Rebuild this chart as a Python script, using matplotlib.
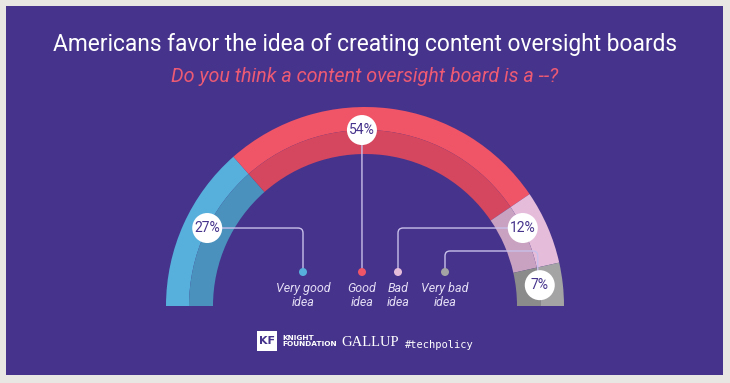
import numpy as np
import matplotlib.pyplot as plt
from matplotlib.patches import Wedge, Rectangle, Circle, PathPatch
from matplotlib.path import Path

# data
categories = ["Very good\nidea", "Good\nidea", "Bad\nidea", "Very bad\nidea"]
shares = [27, 54, 12, 7]
pct_labels = ["27%", "54%", "12%", "7%"]

outer_colors = ["#57b0dc", "#ef5567", "#e5bddb", "#a4a4a4"]
inner_colors = ["#4a92bd", "#d5475e", "#c9a2c1", "#8b8b8b"]

# layout (image pixel coords, y measured from the top)
W, H = 730, 383
CX, CY = 365, 306
R_IN, R_MID, R_OUT = 152, 176, 199
label_angles = [153.7, 91.0, 26.3, 6.8]   # where the value bubbles sit on the arc
legend_x = [303, 362, 398, 445]
legend_dot_y = 272
PURPLE = "#46338c"
LINE = "#c9c0ea"


def Y(y):
    return H - y


def rounded_path(pts, r=5):
    """polyline through pts (image coords) with rounded corners"""
    pts = [np.array([x, Y(y)], float) for x, y in pts]
    verts = [pts[0]]
    codes = [Path.MOVETO]
    for i in range(1, len(pts) - 1):
        p0, p1, p2 = pts[i - 1], pts[i], pts[i + 1]
        d1 = (p1 - p0) / np.linalg.norm(p1 - p0)
        d2 = (p2 - p1) / np.linalg.norm(p2 - p1)
        verts += [p1 - d1 * r, p1, p1 + d2 * r]
        codes += [Path.LINETO, Path.CURVE3, Path.CURVE3]
    verts.append(pts[-1])
    codes.append(Path.LINETO)
    return Path(verts, codes)


fig = plt.figure(figsize=(7.3, 3.83), dpi=100)
fig.patch.set_facecolor("#e9e7e3")
ax = fig.add_axes([0, 0, 1, 1])
ax.set_xlim(0, W)
ax.set_ylim(0, H)
ax.set_aspect("equal")
ax.axis("off")

ax.add_patch(Rectangle((6, Y(375)), 717, 369, facecolor=PURPLE, edgecolor="none", zorder=0))

# gauge
cum = np.concatenate([[0], np.cumsum(shares)]) / sum(shares)
for i in range(len(shares)):
    t1 = 180 - cum[i + 1] * 180
    t2 = 180 - cum[i] * 180
    ax.add_patch(Wedge((CX, Y(CY)), R_OUT, t1, t2, width=R_OUT - R_MID,
                       facecolor=outer_colors[i], edgecolor="none", zorder=1))
    ax.add_patch(Wedge((CX, Y(CY)), R_MID, t1, t2, width=R_MID - R_IN,
                       facecolor=inner_colors[i], edgecolor="none", zorder=1))

# bubble positions
bx = [CX + R_MID * np.cos(np.radians(a)) for a in label_angles]
by = [CY - R_MID * np.sin(np.radians(a)) for a in label_angles]

# leader lines
leaders = [
    [(bx[0], by[0]), (legend_x[0], by[0]), (legend_x[0], legend_dot_y)],
    [(bx[1], by[1]), (legend_x[1], legend_dot_y)],
    [(legend_x[2], legend_dot_y), (legend_x[2], by[2]), (bx[2], by[2])],
    [(legend_x[3], legend_dot_y), (legend_x[3], 251), (bx[3] - 2, 251), (bx[3] - 2, by[3])],
]
for pts in leaders:
    ax.add_patch(PathPatch(rounded_path(pts), facecolor="none", edgecolor=LINE,
                           lw=1.0, zorder=2))

for i in range(len(shares)):
    ax.add_patch(Circle((bx[i], Y(by[i])), 15, facecolor="white", edgecolor="none", zorder=3))
    ax.text(bx[i], Y(by[i]), pct_labels[i], ha="center", va="center", fontsize=10,
            color=PURPLE, family="Roboto", zorder=4)
    ax.add_patch(Circle((legend_x[i], Y(legend_dot_y)), 4, facecolor=outer_colors[i],
                        edgecolor="none", zorder=3))
    ax.text(legend_x[i], Y(282), categories[i], ha="center", va="top", fontsize=9,
            style="italic", color="#e4def5", family="Roboto", linespacing=1.05, zorder=4)

# titles
ax.text(W / 2, Y(45), "Americans favor the idea of creating content oversight boards",
        ha="center", va="center", fontsize=16.4, color="white", family="Roboto")
ax.text(W / 2, Y(76), "Do you think a content oversight board is a --?",
        ha="center", va="center", fontsize=14.2, color="#ec5a73", style="italic",
        family="Roboto")

# footer
ax.add_patch(Rectangle((257, Y(351)), 20, 20, facecolor="white", edgecolor="none"))
ax.text(267, Y(341), "KF", ha="center", va="center", fontsize=8, fontweight="bold",
        color=PURPLE, family="DejaVu Sans")
ax.text(282, Y(341), "KNIGHT\nFOUNDATION", ha="left", va="center", fontsize=5.3,
        fontweight="bold", color="white", family="DejaVu Sans", linespacing=1.2)
ax.text(341, Y(343), "GALLUP", ha="left", va="center", fontsize=10.5, color="white",
        family="Liberation Serif")
ax.text(405, Y(345), "#techpolicy", ha="left", va="center", fontsize=7.5, color="white",
        family="DejaVu Sans Mono")

fig.savefig("out.png", dpi=100, facecolor=fig.get_facecolor())
